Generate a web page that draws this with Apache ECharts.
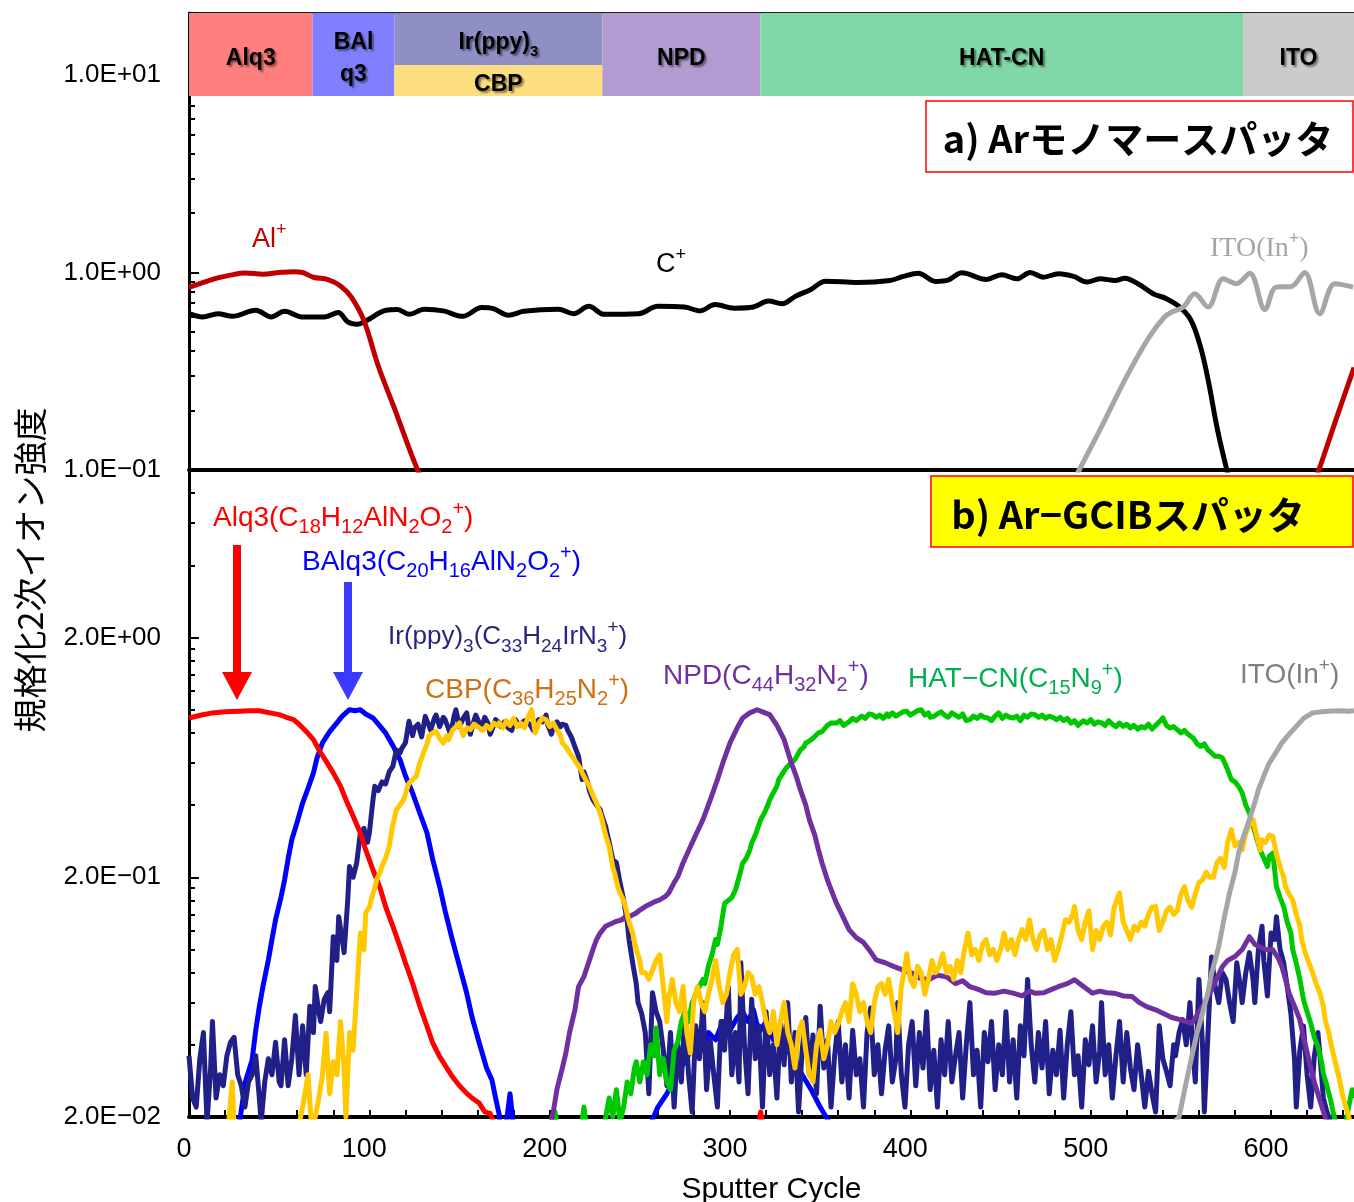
<!DOCTYPE html>
<html><head><meta charset="utf-8">
<script src="https://cdn.jsdelivr.net/npm/echarts@6/dist/echarts.min.js"></script>
<style>html,body{margin:0;padding:0;background:#fff}#c{width:1354px;height:1202px}</style>
</head><body><div id="c"></div>
<script>
// ---------- tick labels ----------
const xTickLabels = [0, 100, 200, 300, 400, 500, 600];
const topYLabels = ['1.0E\u221201', '1.0E+00', '1.0E+01'];      // 0.1, 1, 10
const bottomYLabels = ['2.0E\u221202', '2.0E\u221201', '2.0E+00']; // 0.02, 0.2, 2

// ---------- layer bar (sputter cycle ranges) ----------
const layerNames = ['Alq3', 'BAl\nq3', 'Ir(ppy)3', 'CBP', 'NPD', 'HAT-CN', 'ITO'];
const layerStart = [0, 68.5, 113.9, 113.9, 229.2, 316.8, 584.5];
const layerEnd   = [68.5, 113.9, 229.2, 229.2, 316.8, 584.5, 646];
const layerLow   = [7.83, 7.83, 11.2, 7.83, 7.83, 7.83, 7.83];
const layerHigh  = [20.6, 20.6, 20.6, 11.2, 20.6, 20.6, 20.6];

// ---------- a) Ar monomer sputter ----------
const alTop = [[0,0.84],[8,0.89],[16,0.94],[23,0.97],[31,0.995],[41,0.98],[50,1.0],[58,1.01],[63,1.0],[69,0.946],[77,0.92],[84,0.855],[90,0.75],[97,0.57],[105,0.335],[113.5,0.21],[126,0.104],[132,0.08],[140,null],[615,null],[620,0.07],[626.5,0.1],[636,0.18],[646,0.33]];
const cTop = [[0,0.619],[7.5,0.596],[16,0.619],[24,0.60],[37,0.644],[45.6,0.596],[53,0.636],[62.6,0.596],[75.3,0.596],[82.8,0.627],[88,0.562],[93.4,0.547],[98.7,0.573],[109.3,0.644],[115.6,0.649],[122,0.614],[130.5,0.651],[141,0.639],[151.7,0.60],[162.3,0.664],[168.7,0.656],[177.2,0.607],[185.6,0.636],[204.8,0.651],[213.2,0.619],[221.7,0.674],[230.2,0.614],[249.3,0.619],[260,0.674],[274.8,0.669],[283.3,0.639],[291.7,0.688],[302.3,0.66],[312.9,0.669],[321.4,0.717],[328.8,0.695],[336.2,0.757],[344.6,0.818],[353,0.904],[370.8,0.89],[388.7,0.911],[396,0.955],[404.4,0.992],[413.9,0.901],[421.2,0.918],[428.6,0.997],[442.2,0.922],[450.6,0.974],[459,0.929],[466.4,1.0],[473.7,0.947],[482.1,0.985],[490.5,0.955],[497.9,0.894],[505.2,0.929],[513.6,0.911],[518.9,0.936],[526.2,0.877],[534.6,0.781],[542,0.737],[549.3,0.669],[555.6,0.573],[560.9,0.42],[565.1,0.286],[570.3,0.16],[575.5,0.1],[580,0.07]];
const itoTop = [[485,0.07],[493.6,0.1],[505.2,0.16],[519.9,0.297],[532.5,0.472],[540.9,0.595],[545.1,0.631],[551.4,0.669],[557.7,0.781],[565.1,0.669],[573.5,0.929],[580.8,0.877],[588.2,0.992],[596.6,0.649],[602.8,0.843],[611.3,0.85],[618.6,1.0],[627,0.619],[635.4,0.877],[645.5,0.843]];

// ---------- b) Ar-GCIB sputter ----------
const alq3 = [[0,0.924],[7,0.95],[13,0.97],[20,0.98],[28,0.985],[34,0.99],[39,0.99],[45,0.97],[50,0.954],[54,0.93],[58,0.909],[61,0.87],[65,0.812],[69,0.75],[72,0.681],[76,0.61],[80,0.545],[84,0.48],[87,0.421],[91,0.36],[95,0.306],[98,0.26],[102,0.215],[106,0.18],[109,0.151],[113,0.125],[117,0.103],[120,0.088],[124,0.0723],[128,0.058],[132,0.0477],[135,0.041],[139,0.0357],[143,0.032],[146,0.0295],[150,0.027],[154,0.0251],[157,0.024],[161,0.0228],[164,0.021],[167,0.0207],[169,0.019],[171,0.017],[200,0.017],[202,0.021],[204,0.017],[315,0.017],[317,0.021],[319,0.017],[646,0.017]];
const balq3 = [[0,0.017],[26,0.017],[28,0.019],[30,0.024],[31,0.0276],[33,0.031],[35,0.0346],[37,0.046],[39,0.0577],[41,0.07],[44,0.0904],[46,0.11],[48,0.133],[51,0.165],[53,0.195],[55,0.24],[57,0.287],[60,0.34],[63,0.408],[66,0.47],[69,0.545],[71,0.63],[74,0.727],[78,0.81],[82,0.881],[85,0.94],[89,1.0],[92,0.99],[95,1.0],[98,0.96],[102,0.924],[105,0.87],[109,0.8],[113,0.71],[117,0.619],[120,0.53],[124,0.449],[128,0.37],[132,0.306],[135,0.24],[139,0.183],[142,0.145],[146,0.11],[150,0.085],[154,0.0657],[157,0.052],[161,0.0406],[165,0.032],[168,0.0285],[170,0.024],[172,0.0205],[173,0.017],[176,0.019],[178,0.025],[180,0.018],[240,0.017],[255,0.018],[260,0.022],[265,0.025],[270,0.03],[275,0.034],[280,0.04],[285,0.038],[288,0.045],[292,0.042],[296,0.05],[300,0.046],[304,0.052],[307,0.055],[310,0.05],[313,0.056],[316,0.045],[320,0.05],[324,0.042],[328,0.044],[332,0.038],[336,0.034],[340,0.03],[345,0.026],[350,0.022],[355,0.019],[360,0.017],[646,0.017]];
const irppy = [[0,0.036],[2,0.024],[4,0.022],[6,0.035],[8,0.045],[10,0.019],[12,0.032],[13,0.05],[15,0.024],[17,0.03],[19,0.027],[21,0.036],[23,0.041],[25,0.043],[27,0.03],[29,0.027],[31,0.022],[33,0.028],[35,0.03],[37,0.036],[39,0.024],[40,0.019],[42,0.028],[44,0.035],[46,0.03],[48,0.041],[50,0.028],[51,0.027],[53,0.042],[55,0.027],[57,0.035],[59,0.053],[61,0.03],[63,0.048],[65,0.03],[67,0.058],[69,0.045],[70,0.07],[72,0.055],[73,0.05],[75,0.062],[77,0.066],[78,0.055],[80,0.113],[82,0.09],[83,0.137],[85,0.11],[86,0.097],[88,0.16],[89,0.222],[91,0.2],[93,0.23],[95,0.306],[97,0.32],[99,0.28],[100,0.306],[102,0.42],[103,0.479],[105,0.46],[107,0.5],[109,0.49],[111,0.55],[113,0.58],[115,0.68],[117,0.66],[118,0.69],[120,0.727],[122,0.895],[124,0.78],[125,0.84],[127,0.87],[129,0.77],[131,0.938],[133,0.86],[134,0.82],[136,0.92],[137,0.95],[139,0.85],[141,0.93],[142,0.91],[144,0.83],[145,0.79],[147,0.94],[148,1.0],[150,0.85],[152,0.92],[154,0.97],[155,0.86],[156,0.79],[158,0.9],[159,0.95],[161,0.88],[162,0.83],[164,0.93],[166,0.87],[167,0.79],[169,0.86],[170,0.91],[172,0.88],[173,0.85],[175,0.89],[177,0.84],[179,0.82],[180,0.88],[181,0.91],[183,0.86],[184,0.85],[186,0.9],[187,0.91],[189,0.87],[191,0.82],[192,0.88],[194,0.91],[196,0.89],[198,0.95],[199,0.86],[201,0.79],[202,0.85],[204,0.89],[206,0.85],[207,0.87],[209,0.86],[210,0.82],[212,0.77],[214,0.7],[216,0.639],[218,0.511],[219,0.55],[221,0.5],[222,0.46],[224,0.421],[226,0.4],[228,0.383],[229,0.36],[231,0.326],[233,0.28],[235,0.237],[237,0.23],[239,0.19],[241,0.161],[243,0.13],[244,0.11],[246,0.088],[248,0.072],[249,0.06],[251,0.054],[253,0.045],[255,0.025],[257,0.066],[259,0.055],[261,0.05],[263,0.038],[265,0.027],[267,0.045],[269,0.022],[271,0.04],[273,0.028],[275,0.055],[277,0.03],[279,0.021],[281,0.048],[283,0.035],[285,0.06],[287,0.026],[289,0.042],[291,0.03],[293,0.022],[295,0.05],[297,0.038],[299,0.07],[301,0.03],[303,0.045],[305,0.028],[306,0.088],[308,0.04],[310,0.025],[312,0.062],[314,0.035],[316,0.048],[318,0.022],[320,0.055],[322,0.03],[324,0.04],[326,0.024],[328,0.05],[330,0.033],[332,0.06],[334,0.028],[336,0.045],[338,0.021],[340,0.038],[342,0.052],[344,0.03],[346,0.044],[348,0.025],[350,0.058],[352,0.032],[354,0.042],[356,0.022],[358,0.036],[360,0.05],[362,0.028],[364,0.04],[366,0.024],[368,0.046],[370,0.03],[372,0.035],[374,0.022],[376,0.045],[378,0.057],[380,0.03],[382,0.04],[384,0.025],[386,0.038],[388,0.048],[390,0.028],[392,0.035],[393,0.06],[395,0.03],[397,0.022],[399,0.04],[401,0.05],[403,0.027],[405,0.045],[407,0.032],[409,0.055],[411,0.026],[413,0.038],[415,0.022],[417,0.042],[419,0.03],[421,0.05],[423,0.028],[425,0.036],[427,0.045],[429,0.024],[431,0.04],[433,0.06],[435,0.03],[437,0.038],[439,0.022],[441,0.045],[443,0.034],[445,0.05],[447,0.026],[449,0.04],[451,0.03],[453,0.055],[455,0.028],[457,0.042],[459,0.024],[461,0.048],[463,0.036],[465,0.075],[467,0.04],[469,0.028],[471,0.045],[473,0.032],[475,0.05],[477,0.025],[479,0.038],[481,0.03],[483,0.046],[485,0.024],[487,0.04],[489,0.055],[491,0.03],[493,0.036],[495,0.022],[497,0.042],[499,0.033],[501,0.048],[503,0.028],[505,0.038],[506,0.06],[508,0.03],[510,0.04],[512,0.024],[514,0.036],[516,0.05],[518,0.028],[520,0.045],[522,0.032],[524,0.026],[526,0.04],[528,0.03],[530,0.022],[532,0.031],[534,0.025],[536,0.021],[538,0.048],[540,0.035],[542,0.031],[544,0.027],[546,0.04],[547,0.036],[549,0.045],[551,0.051],[553,0.04],[555,0.06],[557,0.035],[558,0.028],[560,0.075],[562,0.04],[563,0.021],[565,0.044],[567,0.093],[569,0.07],[571,0.06],[573,0.08],[575,0.075],[577,0.06],[579,0.05],[581,0.088],[583,0.07],[584,0.06],[586,0.08],[588,0.097],[590,0.075],[591,0.06],[593,0.1],[595,0.125],[596,0.09],[598,0.064],[600,0.117],[602,0.11],[603,0.137],[605,0.1],[607,0.088],[609,0.07],[611,0.054],[613,0.035],[614,0.022],[616,0.038],[618,0.048],[620,0.03],[622,0.022],[624,0.036],[626,0.045],[628,0.03],[629,0.024],[631,0.021],[633,0.019],[635,0.018],[640,0.017],[646,0.018]];
const cbp = [[0,0.017],[20,0.017],[22,0.019],[24,0.028],[25,0.018],[40,0.017],[50,0.017],[52,0.019],[54,0.018],[58,0.019],[60,0.017],[63,0.022],[66,0.03],[68,0.018],[70,0.02],[72,0.024],[74,0.03],[76,0.0447],[78,0.025],[80,0.034],[82,0.03],[84,0.05],[86,0.032],[87,0.02],[89,0.045],[91,0.038],[93,0.066],[95,0.117],[97,0.1],[98,0.142],[100,0.15],[101,0.161],[103,0.18],[104,0.195],[106,0.21],[107,0.222],[109,0.24],[111,0.269],[113,0.33],[115,0.383],[117,0.4],[119,0.421],[121,0.47],[122,0.494],[124,0.51],[126,0.527],[128,0.6],[130,0.661],[132,0.72],[133,0.774],[135,0.8],[137,0.812],[139,0.76],[141,0.727],[143,0.78],[144,0.75],[146,0.82],[148,0.85],[150,0.881],[152,0.78],[154,0.84],[156,0.826],[158,0.87],[160,0.85],[161,0.852],[163,0.82],[165,0.86],[167,0.83],[169,0.88],[171,0.86],[172,0.881],[174,0.84],[176,0.9],[178,0.86],[180,0.92],[182,0.85],[184,0.88],[186,0.84],[188,0.93],[190,1.0],[192,0.8],[194,0.88],[196,0.92],[198,0.909],[200,0.85],[202,0.88],[204,0.826],[206,0.78],[207,0.727],[209,0.7],[211,0.661],[213,0.63],[215,0.599],[217,0.57],[218,0.545],[220,0.51],[222,0.479],[224,0.44],[226,0.408],[228,0.37],[229,0.348],[231,0.3],[233,0.269],[235,0.22],[236,0.208],[238,0.18],[239,0.172],[241,0.16],[242,0.151],[244,0.13],[246,0.117],[248,0.1],[250,0.09],[251,0.08],[253,0.08],[255,0.075],[257,0.082],[259,0.09],[261,0.095],[263,0.07],[265,0.05],[266,0.062],[268,0.075],[270,0.06],[272,0.055],[274,0.07],[276,0.045],[278,0.037],[280,0.062],[282,0.07],[284,0.06],[286,0.055],[288,0.065],[290,0.075],[292,0.09],[294,0.07],[296,0.06],[298,0.065],[300,0.08],[302,0.095],[304,0.1],[306,0.065],[308,0.07],[310,0.08],[312,0.077],[314,0.065],[316,0.07],[318,0.06],[320,0.05],[322,0.045],[324,0.055],[326,0.04],[328,0.05],[330,0.06],[332,0.045],[334,0.04],[336,0.032],[338,0.045],[340,0.05],[342,0.038],[344,0.03],[346,0.028],[348,0.04],[350,0.046],[352,0.035],[354,0.04],[356,0.05],[358,0.045],[360,0.049],[362,0.055],[364,0.06],[366,0.05],[368,0.072],[370,0.065],[372,0.055],[374,0.06],[376,0.05],[378,0.045],[380,0.06],[382,0.07],[384,0.072],[386,0.065],[388,0.075],[390,0.06],[392,0.05],[393,0.045],[395,0.07],[397,0.085],[398,0.096],[400,0.075],[402,0.07],[404,0.085],[406,0.08],[408,0.065],[410,0.075],[412,0.09],[414,0.08],[416,0.085],[418,0.096],[420,0.08],[422,0.085],[424,0.075],[426,0.09],[428,0.08],[430,0.1],[432,0.117],[434,0.095],[436,0.1],[438,0.09],[440,0.105],[442,0.11],[444,0.095],[446,0.1],[448,0.09],[450,0.1],[452,0.117],[454,0.1],[456,0.11],[458,0.095],[460,0.11],[462,0.121],[464,0.11],[466,0.133],[468,0.11],[470,0.1],[472,0.115],[474,0.12],[476,0.1],[478,0.11],[480,0.09],[482,0.1],[484,0.115],[486,0.133],[488,0.13],[490,0.14],[491,0.151],[493,0.12],[495,0.11],[497,0.13],[499,0.145],[501,0.1],[503,0.12],[505,0.11],[507,0.125],[509,0.13],[511,0.115],[513,0.15],[515,0.165],[516,0.172],[518,0.13],[520,0.12],[522,0.11],[524,0.125],[526,0.12],[528,0.13],[530,0.125],[532,0.14],[534,0.15],[536,0.151],[538,0.12],[540,0.13],[542,0.145],[544,0.15],[546,0.14],[548,0.145],[550,0.17],[552,0.183],[554,0.16],[556,0.15],[558,0.17],[560,0.19],[562,0.195],[564,0.21],[566,0.2],[568,0.2],[570,0.23],[572,0.24],[574,0.22],[576,0.28],[578,0.316],[580,0.27],[582,0.28],[584,0.26],[586,0.306],[588,0.33],[590,0.348],[592,0.3],[594,0.26],[595,0.287],[597,0.28],[599,0.3],[601,0.296],[603,0.25],[605,0.222],[607,0.2],[608,0.183],[610,0.17],[612,0.161],[614,0.14],[616,0.125],[617,0.11],[619,0.0965],[621,0.088],[623,0.08],[625,0.072],[627,0.066],[629,0.058],[630,0.051],[632,0.045],[634,0.038],[636,0.033],[638,0.0285],[640,0.024],[642,0.0214],[644,0.019],[646,0.018]];
const npd = [[199,0.017],[202,0.021],[204,0.026],[207,0.032],[209,0.037],[211,0.045],[214,0.056],[216,0.07],[219,0.077],[222,0.09],[224,0.1],[226,0.11],[228,0.117],[231,0.125],[234,0.128],[237,0.131],[240,0.133],[242,0.137],[245,0.138],[248,0.142],[250,0.146],[253,0.151],[256,0.155],[258,0.158],[261,0.161],[264,0.166],[266,0.172],[269,0.19],[271,0.201],[274,0.23],[278,0.268],[281,0.3],[285,0.348],[289,0.42],[293,0.511],[296,0.6],[300,0.727],[304,0.84],[307,0.924],[311,0.97],[315,1.0],[318,0.98],[322,0.954],[326,0.86],[330,0.75],[334,0.6],[337,0.52],[339,0.464],[342,0.4],[344,0.348],[347,0.3],[349,0.261],[351,0.23],[354,0.195],[357,0.17],[359,0.156],[363,0.135],[366,0.121],[370,0.112],[374,0.107],[377,0.1],[381,0.0904],[386,0.088],[391,0.0848],[396,0.082],[401,0.0796],[405,0.076],[410,0.0747],[415,0.078],[420,0.077],[425,0.072],[429,0.074],[433,0.0699],[438,0.068],[442,0.066],[447,0.0657],[452,0.067],[457,0.0657],[462,0.064],[466,0.067],[469,0.0657],[474,0.066],[478,0.068],[482,0.0699],[487,0.072],[491,0.0747],[496,0.07],[501,0.0657],[505,0.067],[509,0.066],[513,0.0657],[518,0.064],[523,0.0636],[527,0.06],[531,0.0577],[536,0.056],[540,0.0542],[545,0.052],[550,0.0508],[556,0.0492],[562,0.0577],[567,0.0678],[573,0.0848],[576,0.09],[580,0.0934],[584,0.1],[588,0.113],[591,0.105],[593,0.103],[597,0.1],[601,0.0996],[604,0.092],[606,0.0848],[608,0.075],[610,0.0657],[613,0.058],[616,0.0508],[618,0.043],[621,0.0346],[624,0.028],[627,0.0236],[630,0.02],[632,0.018]];
const hatcn = [[200,0.017],[203,0.021],[205,0.017],[217,0.017],[219,0.022],[221,0.017],[230,0.018],[233,0.024],[235,0.02],[237,0.026],[239,0.019],[241,0.022],[243,0.028],[245,0.025],[247,0.032],[248,0.034],[250,0.028],[252,0.034],[254,0.03],[256,0.04],[258,0.036],[259,0.047],[261,0.03],[263,0.035],[265,0.028],[267,0.026],[269,0.038],[271,0.041],[273,0.05],[275,0.055],[277,0.05],[279,0.06],[281,0.065],[283,0.07],[285,0.075],[286,0.072],[288,0.085],[290,0.095],[292,0.11],[293,0.105],[295,0.125],[297,0.156],[299,0.16],[301,0.165],[303,0.177],[305,0.2],[307,0.229],[309,0.24],[311,0.26],[312,0.277],[314,0.3],[316,0.33],[317,0.348],[319,0.37],[321,0.4],[322,0.421],[324,0.45],[326,0.48],[327,0.511],[329,0.54],[331,0.57],[332,0.58],[334,0.6],[336,0.62],[337,0.63],[339,0.68],[341,0.7],[342,0.727],[344,0.74],[346,0.76],[347,0.774],[349,0.8],[351,0.81],[352,0.826],[354,0.86],[356,0.88],[357,0.895],[359,0.88],[361,0.9],[363,0.86],[364,0.867],[366,0.89],[368,0.92],[370,0.9],[371,0.909],[373,0.94],[375,0.92],[377,0.96],[379,0.954],[381,0.93],[383,0.95],[385,0.92],[387,0.96],[388,0.938],[390,0.97],[392,0.94],[394,0.96],[396,0.98],[398,0.985],[400,0.95],[402,0.97],[404,0.99],[406,1.0],[408,0.95],[410,0.97],[411,0.93],[413,0.938],[415,0.96],[417,0.98],[419,0.95],[421,0.93],[423,0.97],[425,0.95],[427,0.93],[429,0.96],[431,0.9],[433,0.909],[435,0.94],[437,0.92],[439,0.95],[441,0.93],[443,0.924],[445,0.9],[447,0.94],[449,0.97],[451,0.92],[453,0.95],[455,0.93],[457,0.924],[459,0.94],[461,0.9],[463,0.95],[465,0.93],[467,0.96],[469,0.954],[471,0.93],[473,0.95],[475,0.92],[477,0.94],[479,0.93],[481,0.909],[483,0.93],[485,0.9],[487,0.92],[489,0.88],[491,0.9],[493,0.86],[494,0.867],[496,0.9],[498,0.88],[500,0.91],[502,0.87],[504,0.89],[506,0.881],[508,0.86],[510,0.9],[512,0.87],[514,0.85],[516,0.88],[518,0.852],[520,0.87],[522,0.84],[524,0.86],[526,0.83],[528,0.85],[530,0.84],[532,0.87],[534,0.83],[536,0.86],[538,0.89],[540,0.924],[542,0.86],[544,0.84],[546,0.85],[548,0.826],[550,0.8],[552,0.82],[554,0.79],[555,0.8],[557,0.76],[559,0.72],[561,0.703],[563,0.72],[565,0.68],[567,0.66],[569,0.639],[571,0.64],[573,0.63],[574,0.619],[576,0.56],[578,0.511],[580,0.5],[582,0.479],[584,0.45],[586,0.4],[588,0.371],[590,0.33],[592,0.29],[594,0.26],[596,0.24],[598,0.222],[599,0.245],[601,0.252],[603,0.183],[605,0.165],[607,0.151],[609,0.13],[611,0.117],[612,0.1],[614,0.0876],[616,0.075],[618,0.0616],[620,0.055],[622,0.0492],[624,0.043],[626,0.0393],[628,0.034],[629,0.0304],[631,0.027],[633,0.0236],[635,0.02],[637,0.018],[641,0.018],[643,0.022],[645,0.026],[646,0.024]];
const itoBottom = [[540,0.017],[549,0.02],[553,0.028],[556,0.0357],[559,0.045],[562,0.0542],[565,0.066],[567,0.0796],[569,0.09],[571,0.103],[574,0.135],[577,0.172],[580,0.21],[582,0.252],[585,0.3],[588,0.348],[591,0.41],[593,0.464],[596,0.53],[599,0.599],[602,0.65],[606,0.727],[610,0.79],[614,0.852],[618,0.92],[623,0.97],[628,0.98],[632,0.985],[638,0.99],[643,0.985],[646,0.99]];

// ---------- build ----------
const FONT = 'Liberation Sans';
const JP = 'Noto Sans CJK JP';
const chart = echarts.init(document.getElementById('c'), null, {renderer: 'canvas'});

function isPow10(v) {
  const l = Math.log10(v);
  return Math.abs(l - Math.round(l)) < 1e-6 ? Math.round(l) : null;
}
const topFmt = v => { const e = isPow10(v); return (e === null || e < -1 || e > 1) ? '' : topYLabels[e + 1]; };
const botFmt = v => { const e = isPow10(v); return (e === null || e < -2 || e > 0) ? '' : bottomYLabels[e + 2]; };

const layerColors = ['#FF7F7F', '#8080FF', '#8F8FC4', '#FCDE7E', '#B39AD0', '#80D8A8', '#CBCBCB'];
const markData = layerNames.map((n, i) => [
  {name: n, xAxis: layerStart[i], yAxis: layerLow[i], itemStyle: {color: layerColors[i], opacity: 1},
   label: n === 'Ir(ppy)3' ? {formatter: '{a|Ir(ppy)}{b|3}'} : {}},
  {xAxis: layerEnd[i], yAxis: layerHigh[i]}
]);

function line(name, data, color, xi, yi, extra) {
  return Object.assign({
    type: 'line', name, data, xAxisIndex: xi, yAxisIndex: yi,
    showSymbol: false, symbol: 'none', clip: true, connectNulls: false,
    lineStyle: {color, width: 5, join: 'round'}, itemStyle: {color},
    emphasis: {disabled: true}, silent: true, z: 3
  }, extra || {});
}

const sub = (c, fs) => ({fontSize: fs, fontFamily: FONT, fill: c, color: c, verticalAlign: 'bottom', lineHeight: fs});
const sup = (c, fs) => ({fontSize: fs, fontFamily: FONT, fill: c, color: c, verticalAlign: 'top', lineHeight: fs});
const nor = (c, fs) => ({fontSize: fs, fontFamily: FONT, fill: c, color: c, lineHeight: 38});
function chemText(x, y, text, color, fs, sfs, family) {
  const n = nor(color, fs); if (family) n.fontFamily = family;
  return {type: 'text', x, y, z: 100, silent: true,
    style: {text, fill: color, fontSize: fs, fontFamily: family || FONT, align: 'left', verticalAlign: 'middle',
      rich: {n, s: sub(color, sfs), p: sup(color, sfs)}}};
}

const shadow = {textShadowColor: 'rgba(0,0,0,0.45)', textShadowBlur: 2, textShadowOffsetX: 2, textShadowOffsetY: 2};

const option = {
  animation: false,
  backgroundColor: '#fff',
  grid: [
    {left: 189, right: 0, top: 13, height: 457, containLabel: false, outerBoundsMode: 'none'},
    {left: 189, right: 0, top: 470, height: 647, containLabel: false, outerBoundsMode: 'none'}
  ],
  xAxis: [
    {type: 'value', gridIndex: 0, min: 0, max: 646, position: 'bottom',
     axisLine: {show: true, onZero: false, lineStyle: {color: '#000', width: 4}},
     axisTick: {show: false}, axisLabel: {show: false}, splitLine: {show: false}},
    {type: 'value', gridIndex: 1, min: 0, max: 646, interval: 20, position: 'bottom',
     axisLine: {show: true, onZero: false, lineStyle: {color: '#000', width: 4}},
     axisTick: {show: true, inside: true, length: 7, lineStyle: {color: '#000', width: 2}},
     axisLabel: {show: true, fontSize: 27, fontFamily: FONT, color: '#000', margin: 19, padding: [0, 10, 0, 0],
       formatter: v => xTickLabels.indexOf(v) >= 0 ? String(v) : '', showMaxLabel: false},
     splitLine: {show: false},
     name: 'Sputter Cycle', nameLocation: 'middle', nameGap: 58,
     nameTextStyle: {fontSize: 30, fontFamily: FONT, color: '#000'}},
    {type: 'value', gridIndex: 0, min: 0, max: 646, position: 'top',
     axisLine: {show: true, onZero: false, lineStyle: {color: '#222', width: 2}},
     axisTick: {show: false}, axisLabel: {show: false}, splitLine: {show: false}}
  ],
  yAxis: [
    {type: 'log', logBase: 10, gridIndex: 0, min: 0.1, max: 20.6, position: 'left',
     axisLine: {show: true, onZero: false, lineStyle: {color: '#000', width: 3}},
     axisTick: {show: true, inside: true, length: 10, lineStyle: {color: '#000', width: 2}},
     minorTick: {show: true, splitNumber: 9, length: 6, lineStyle: {color: '#000', width: 2}},
     axisLabel: {show: true, fontSize: 26, fontFamily: FONT, color: '#000', margin: 28, formatter: topFmt, showMaxLabel: false},
     splitLine: {show: false}, minorSplitLine: {show: false}},
    {type: 'log', logBase: 10, gridIndex: 1, min: 0.01, max: 5, position: 'left',
     axisLine: {show: true, onZero: false, lineStyle: {color: '#000', width: 3}},
     axisTick: {show: true, inside: true, length: 10, lineStyle: {color: '#000', width: 2}},
     minorTick: {show: true, splitNumber: 9, length: 6, lineStyle: {color: '#000', width: 2}},
     axisLabel: {show: true, fontSize: 26, fontFamily: FONT, color: '#000', margin: 28, formatter: botFmt, showMaxLabel: false},
     splitLine: {show: false}, minorSplitLine: {show: false}},
    {type: 'log', logBase: 10, gridIndex: 1, min: 0.02, max: 10, position: 'right',
     axisLine: {show: false}, axisTick: {show: false}, axisLabel: {show: false},
     splitLine: {show: false}}
  ],
  series: [
    line('C+', cTop, '#000000', 0, 0, {smooth: 0.35, markArea: {
      silent: true, z: 1,
      label: Object.assign({show: true, position: 'inside', offset: [0, 4], color: '#000', fontSize: 23, fontWeight: 'bold', fontFamily: FONT,
        lineHeight: 32,
        rich: {a: Object.assign({fontSize: 23, fontWeight: 'bold', fontFamily: FONT, color: '#000', lineHeight: 32}, shadow),
               b: Object.assign({fontSize: 15, fontWeight: 'bold', fontFamily: FONT, color: '#000', verticalAlign: 'bottom', lineHeight: 15}, shadow)}}, shadow),
      itemStyle: {opacity: 1}, emphasis: {disabled: true},
      data: markData}}),
    line('ITO(In+) top', itoTop, '#A6A6A6', 0, 0, {smooth: 0.35}),
    line('Al+', alTop, '#C00000', 0, 0, {smooth: 0.35}),
    line('BAlq3', balq3, '#0000FF', 1, 2),
    line('Ir(ppy)3', irppy, '#202088', 1, 2),
    line('Alq3', alq3, '#FF0000', 1, 2),
    line('HAT-CN', hatcn, '#00C800', 1, 2),
    line('NPD', npd, '#7030A0', 1, 2),
    line('CBP', cbp, '#FFC800', 1, 2),
    line('ITO(In+)', itoBottom, '#A6A6A6', 1, 2)
  ],
  graphic: [
    // y-axis title
    {type: 'text', x: 30, y: 570, rotation: Math.PI / 2, z: 100, silent: true,
     style: {text: '規格化2次イオン強度', fontSize: 34, fontFamily: JP, fill: '#000', align: 'center', verticalAlign: 'middle'}},
    // panel tags
    {type: 'rect', z: 100, silent: true, shape: {x: 926, y: 101, width: 427, height: 71},
     style: {fill: '#fff', stroke: '#FF0000', lineWidth: 1.5}},
    {type: 'text', x: 1138, y: 139, z: 101, silent: true,
     style: {text: 'a) Arモノマースパッタ', fontSize: 38, fontWeight: 'bold', fontFamily: JP, fill: '#000', align: 'center', verticalAlign: 'middle'}},
    {type: 'rect', z: 100, silent: true, shape: {x: 931, y: 476, width: 422, height: 71},
     style: {fill: '#FFFF00', stroke: '#FF0000', lineWidth: 1.5}},
    {type: 'text', x: 1128, y: 515, z: 101, silent: true,
     style: {text: 'b) Ar\u2212GCIBスパッタ', fontSize: 38, fontWeight: 'bold', fontFamily: JP, fill: '#000', align: 'center', verticalAlign: 'middle'}},
    // arrows
    {type: 'rect', z: 100, silent: true, shape: {x: 233, y: 545, width: 8, height: 130}, style: {fill: '#FF0000'}},
    {type: 'polygon', z: 100, silent: true, shape: {points: [[222, 672], [252, 672], [237, 700]]}, style: {fill: '#FF0000'}},
    {type: 'rect', z: 100, silent: true, shape: {x: 344, y: 582, width: 8, height: 93}, style: {fill: '#3A3AFF'}},
    {type: 'polygon', z: 100, silent: true, shape: {points: [[333, 672], [363, 672], [348, 700]]}, style: {fill: '#3A3AFF'}},
    // series labels, top
    chemText(252, 240, '{n|Al}{p|+}', '#C00000', 27, 18),
    chemText(656, 265, '{n|C}{p|+}', '#000000', 27, 18),
    chemText(1210, 249, '{n|ITO(In}{p|+}{n|)}', '#A6A6A6', 28, 18, 'Liberation Serif'),
    // series labels, bottom
    chemText(213, 518, '{n|Alq3(C}{s|18}{n|H}{s|12}{n|AlN}{s|2}{n|O}{s|2}{p|+}{n|)}', '#FF0000', 28, 20),
    chemText(302, 562, '{n|BAlq3(C}{s|20}{n|H}{s|16}{n|AlN}{s|2}{n|O}{s|2}{p|+}{n|)}', '#0000FF', 28, 20),
    chemText(388, 637, '{n|Ir(ppy)}{s|3}{n|(C}{s|33}{n|H}{s|24}{n|IrN}{s|3}{p|+}{n|)}', '#262680', 26, 19),
    chemText(425, 690, '{n|CBP(C}{s|36}{n|H}{s|25}{n|N}{s|2}{p|+}{n|)}', '#D07010', 28, 20),
    chemText(663, 676, '{n|NPD(C}{s|44}{n|H}{s|32}{n|N}{s|2}{p|+}{n|)}', '#7030A0', 28, 20),
    chemText(908, 679, '{n|HAT\u2212CN(C}{s|15}{n|N}{s|9}{p|+}{n|)}', '#00B050', 28, 20),
    chemText(1240, 675, '{n|ITO(In}{p|+}{n|)}', '#7F7F7F', 28, 19)
  ]
};
chart.setOption(option);
</script></body></html>
